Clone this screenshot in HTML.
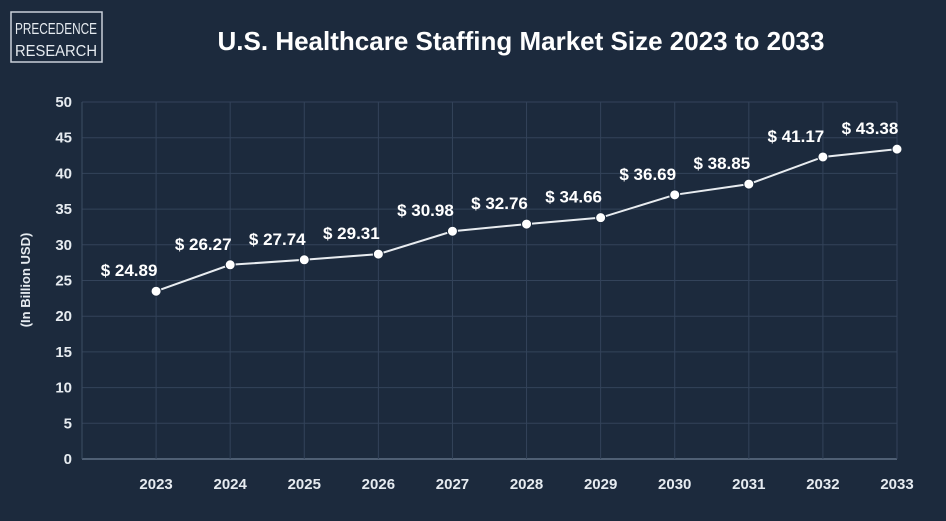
<!DOCTYPE html>
<html><head><meta charset="utf-8"><style>
body{margin:0;background:#1c2a3d;}
svg{display:block;font-family:"Liberation Sans",sans-serif;}
</style></head><body>
<svg width="946" height="521">
<rect width="946" height="521" fill="#1c2a3d"/>
<g>
<rect x="11" y="12" width="91" height="50" fill="none" stroke="#c9d0da" stroke-width="1.5"/>
<text x="56" y="34" fill="#e6ebf0" font-size="16" text-anchor="middle" textLength="82" lengthAdjust="spacingAndGlyphs" transform="scale(1,1)">PRECEDENCE</text>
<text x="56" y="56" fill="#e6ebf0" font-size="16" text-anchor="middle" textLength="82" lengthAdjust="spacingAndGlyphs">RESEARCH</text>
</g>
<text x="521" y="50" fill="#ffffff" font-size="26" font-weight="bold" text-anchor="middle">U.S. Healthcare Staffing Market Size 2023 to 2033</text>
<text transform="translate(30,280) rotate(-90)" fill="#e6ebf0" font-size="13" font-weight="bold" text-anchor="middle">(In Billion USD)</text>
<g id="grid"></g><g id="marks"></g>
</svg>
<script>
const categories=["2023","2024","2025","2026","2027","2028","2029","2030","2031","2032","2033"];
const values=[23.5,27.2,27.9,28.7,31.9,32.9,33.8,37.0,38.5,42.3,43.4];
const valueLabels=["$ 24.89","$ 26.27","$ 27.74","$ 29.31","$ 30.98","$ 32.76","$ 34.66","$ 36.69","$ 38.85","$ 41.17","$ 43.38"];
const yTicks=[0,5,10,15,20,25,30,35,40,45,50];
const NS="http://www.w3.org/2000/svg";
const L=82,R=897,T=102,B=459;
const x=i=>L+(i+1)*(R-L)/categories.length;
const y=v=>B-(v/50)*(B-T);
function mk(tag,at,parent){const e=document.createElementNS(NS,tag);for(const k in at)e.setAttribute(k,at[k]);parent.appendChild(e);return e;}
const g=document.getElementById('grid'),m=document.getElementById('marks');
yTicks.forEach(t=>{
 const ln=mk('line',{x1:L,x2:R,y1:y(t),y2:y(t),stroke:t===0?'#4f5f74':'#33435a','stroke-width':t===0?2:1},g);
 
 
 const tx=mk('text',{x:72,y:y(t)+5,fill:'#e6ebf0','font-size':15,'font-weight':'bold','text-anchor':'end'},g);
 tx.textContent=t;
 
 
});
const ax=mk('line',{x1:L,x2:L,y1:T,y2:B,stroke:'#3d4d63','stroke-width':1},g);


categories.forEach((c,i)=>{
 const ln=mk('line',{x1:x(i),x2:x(i),y1:T,y2:B,stroke:'#33435a','stroke-width':1},g);
 
 
 const tx=mk('text',{x:x(i),y:489,fill:'#e6ebf0','font-size':15,'font-weight':'bold','text-anchor':'middle'},g);
 tx.textContent=c;
 
 
});
const pl=mk('polyline',{points:values.map((v,i)=>x(i)+','+y(v)).join(' '),fill:'none',stroke:'#e8ecf0','stroke-width':2},m);


values.forEach((v,i)=>{
 const c=mk('circle',{cx:x(i),cy:y(v),r:5,fill:'#ffffff',stroke:'#1c2a3d','stroke-width':1},m);
 
 
 const tx=mk('text',{x:x(i)-27,y:y(v)-15,fill:'#ffffff','font-size':17,'font-weight':'bold','text-anchor':'middle'},m);
 tx.textContent=valueLabels[i];
 
 
});
</script>
</body></html>
